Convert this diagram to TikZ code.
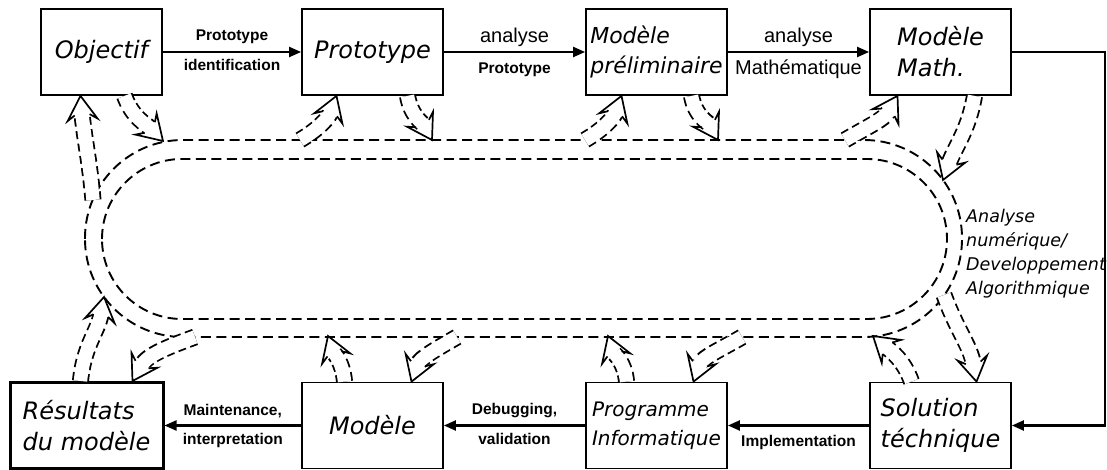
\documentclass[tikz,border=0pt]{standalone}
\usepackage{fontspec}
\usetikzlibrary{arrows.meta}
\newfontfamily\boxfont{DejaVu Sans}
\newfontfamily\labfont{Liberation Sans}

% hollow block arrow: tail, tip, out angle, in angle
\newcommand{\broadarrow}[4]{%
  \draw[broad] (#1) to[out=#3,in=#4] (#2);
  \draw[broadgap] (#1) to[out=#3,in=#4] (#2);
  \begin{scope}[shift={(#2)}, rotate=#4+180]
    \draw[headline] (-19,7.5) -- (-24,15) -- (0,0) -- (-24,-15) -- (-19,-7.5);
  \end{scope}}

\begin{document}
\begin{tikzpicture}[x=1pt, y=1pt, node distance=284pt,
    box/.style={draw, fill=white, line width=1.8pt, minimum width=141pt, minimum height=86pt,
      inner sep=2pt, align=left, font=\boxfont\itshape\fontsize{24}{31}\selectfont},
    main/.style={line width=2.2pt, -{Triangle[length=12pt,width=10pt]}},
    bl/.style={font=\labfont\bfseries\fontsize{15.5}{17}\selectfont},
    rl/.style={font=\labfont\fontsize{20}{22}\selectfont},
    ring/.style={dash pattern=on 10pt off 5.5pt, line width=1.9pt},
    broad/.style={dash pattern=on 8pt off 4.5pt, line width=17pt, shorten >=19pt},
    broadgap/.style={white, line width=13.4pt, shorten >=18pt},
    headline/.style={solid, line width=1.7pt, line join=miter}]
  \useasboundingbox (0,0) rectangle (1107,470);

  \node[box, minimum width=121pt] (obj) at (101.5,418) {Objectif};
  \node[box] (proto) [right of = obj, node distance=271pt] {Prototype};
  \node[box, font=\boxfont\itshape\fontsize{22}{30}\selectfont] (prel) [right of = proto] {Modèle\\préliminaire};
  \node[box] (math) [right of = prel] {Modèle\\Math.};
  \node[box] (sol) [below of = math, node distance=373.5pt] {Solution\\téchnique};
  \node[box, font=\boxfont\itshape\fontsize{20}{29}\selectfont] (prog) [left of = sol] {Programme\\Informatique};
  \node[box] (mod) [left of = prog] {Modèle};
  \node[box, line width=3pt, minimum width=153pt] (res) [left of = mod, node distance=286pt] {Résultats\\du modèle};

  \node[anchor=west, align=left, inner sep=0pt, font=\boxfont\itshape\fontsize{17.5}{24}\selectfont]
    (algo) at (966,216.5) {Analyse\\numérique/\\Developpement\\Algorithmique};

  \draw[main] (obj.east) -- node[bl, above=4pt] {Prototype} node[bl, below=3pt] {identification} (proto.west);
  \draw[main] (proto.east) -- node[rl, above=1pt] {analyse} node[bl, below=6pt] {Prototype} (prel.west);
  \draw[main] (prel.east) -- node[rl, above=1pt] {analyse} node[rl, below=3pt] {Mathématique} (math.west);
  \draw[main] (math.east) -- ++(93,0) |- (sol.east);
  \draw[main] (sol.west) -- node[bl, below=5pt] {Implementation} (prog.east);
  \draw[main] (prog.west) -- node[bl, above=3pt] {Debugging,} node[bl, below=3pt] {validation} (mod.east);
  \draw[main] (mod.west) -- node[bl, above=3pt] {Maintenance,} node[bl, below=3pt] {interpretation} (res.east);

  % the cycle
  \draw[ring, rounded corners=98pt] (85,133) rectangle (962,330);
  \draw[ring, rounded corners=80pt] (102,151) rectangle (947,311);

  \coordinate (objout) at (163,329);
  \coordinate (objin) at (93,270);
  \coordinate (protoin) at (300,330);
  \coordinate (protoout) at (432,330);
  \coordinate (prelin) at (585,330);
  \coordinate (prelout) at (718,330);
  \coordinate (mathin) at (845,330);
  \coordinate (mathout) at (943,290);
  \coordinate (solin) at (944,175);
  \coordinate (solout) at (873,134);
  \coordinate (progin) at (742,133);
  \coordinate (progout) at (608,134);
  \coordinate (modin) at (457,133);
  \coordinate (modout) at (328,134);
  \coordinate (resin) at (195,133);
  \coordinate (resout) at (104,173);

  \broadarrow{[xshift=23pt]obj.south}{objout}{-70}{135}
  \broadarrow{objin}{[xshift=-21pt]obj.south}{95}{-85}
  \broadarrow{protoin}{[xshift=-36pt]proto.south}{30}{-110}
  \broadarrow{[xshift=35pt]proto.south}{protoout}{-80}{120}
  \broadarrow{prelin}{[xshift=-35pt]prel.south}{30}{-110}
  \broadarrow{[xshift=35pt]prel.south}{prelout}{-80}{120}
  \broadarrow{mathin}{[xshift=-43pt]math.south}{30}{-120}
  \broadarrow{[xshift=34pt]math.south}{mathout}{-100}{70}
  \broadarrow{solin}{[xshift=36pt]sol.north}{-70}{100}
  \broadarrow{[xshift=-29pt]sol.north}{solout}{110}{-40}
  \broadarrow{[xshift=-30pt]prog.north}{progout}{95}{-70}
  \broadarrow{progin}{[xshift=37pt]prog.north}{-150}{70}
  \broadarrow{[xshift=-28pt]mod.north}{modout}{95}{-70}
  \broadarrow{modin}{[xshift=39pt]mod.north}{-150}{70}
  \broadarrow{resin}{[xshift=46pt]res.north}{-160}{60}
  \broadarrow{[xshift=-6pt]res.north}{resout}{85}{-100}
\end{tikzpicture}
\end{document}
